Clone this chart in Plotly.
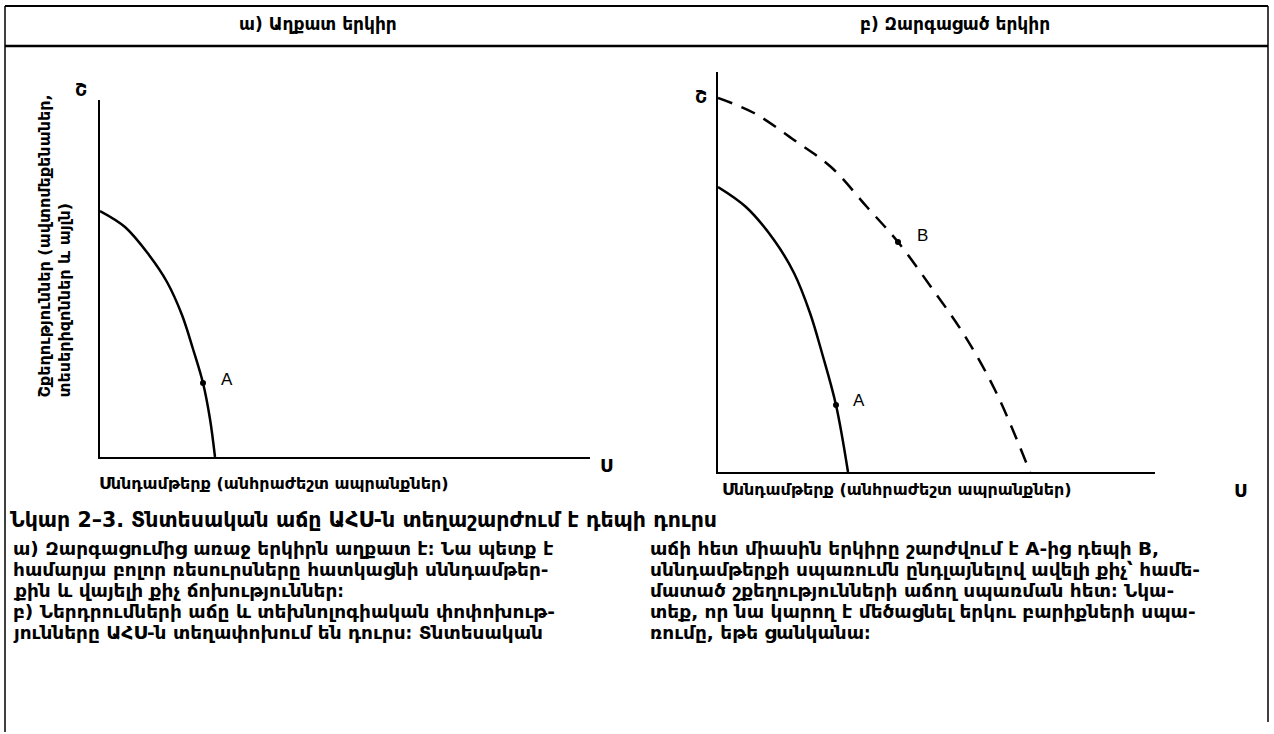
import plotly.graph_objects as go

W, H = 1274, 734

# ---------------- data (arbitrary units) ----------------
# Panel a) poor country: production-possibility frontier
left_ppf_x = [0.0, 2.5, 4.9, 6.7, 8.2, 9.3, 10.3, 11.0, 11.5]
left_ppf_y = [24.6, 23.0, 20.2, 17.5, 14.2, 10.8, 7.4, 3.8, 0.0]
left_point_A = (10.3, 7.4)

# Panel b) developed country: original PPF (solid) and shifted PPF (dashed)
right_ppf_x = [0.0, 2.8, 5.6, 7.6, 9.2, 10.4, 11.8, 13.0]
right_ppf_y = [28.5, 26.5, 23.2, 19.9, 15.9, 11.9, 6.7, 0.0]
right_point_A = (11.8, 6.7)

right_new_ppf_x = [0.0, 3.6, 7.6, 11.3, 14.9, 18.0, 21.3, 24.5, 27.7, 31.2]
right_new_ppf_y = [37.4, 35.9, 33.2, 30.5, 26.5, 23.0, 18.5, 13.9, 8.2, 0.0]
right_point_B = (18.0, 23.0)

# ---------------- texts ----------------
title_left = "ա) Աղքատ երկիր"
title_right = "բ) Զարգացած երկիր"
y_label = "Շքեղություններ (ավտոմեքենաներ,<br>տեսերիզոններ և այլն)"
x_label = "Սննդամթերք (անհրաժեշտ ապրանքներ)"
y_end = "Շ"
x_end = "Ս"
caption = "Նկար 2–3. Տնտեսական աճը ԱՀՍ-ն տեղաշարժում է դեպի դուրս"
para_left = [
    "ա) Զարգացումից առաջ երկիրն աղքատ է։ Նա պետք է",
    "համարյա բոլոր ռեսուրսները հատկացնի սննդամթեր-",
    "քին և վայելի քիչ ճոխություններ։",
    "բ) Ներդրումների աճը և տեխնոլոգիական փոփոխութ-",
    "յունները ԱՀՍ-ն տեղափոխում են դուրս։ Տնտեսական",
]
para_right = [
    "աճի հետ միասին երկիրը շարժվում է A-ից դեպի B,",
    "սննդամթերքի սպառումն ընդլայնելով ավելի քիչ՝ համե-",
    "մատած շքեղությունների աճող սպառման հետ։ Նկա-",
    "տեք, որ նա կարող է մեծացնել երկու բարիքների սպա-",
    "ռումը, եթե ցանկանա։",
]

ARM = "DejaVu Sans"
LAT = "Liberation Sans, Arial"


def px(x):
    return x / W


def py(y):
    return 1 - y / H


fig = go.Figure()

line_style = dict(color="black", width=2.5, shape="spline", smoothing=1.0)

fig.add_trace(go.Scatter(x=left_ppf_x, y=left_ppf_y, mode="lines", line=line_style,
                         xaxis="x", yaxis="y", hoverinfo="skip"))
fig.add_trace(go.Scatter(x=[left_point_A[0]], y=[left_point_A[1]], mode="markers",
                         marker=dict(color="black", size=6), xaxis="x", yaxis="y"))

fig.add_trace(go.Scatter(x=right_ppf_x, y=right_ppf_y, mode="lines", line=line_style,
                         xaxis="x2", yaxis="y2", hoverinfo="skip"))
fig.add_trace(go.Scatter(x=right_new_ppf_x, y=right_new_ppf_y, mode="lines",
                         line=dict(color="black", width=2.5, shape="spline", smoothing=1.0,
                                   dash="15px,10px"),
                         xaxis="x2", yaxis="y2", hoverinfo="skip"))
fig.add_trace(go.Scatter(x=[right_point_A[0], right_point_B[0]],
                         y=[right_point_A[1], right_point_B[1]], mode="markers",
                         marker=dict(color="black", size=6), xaxis="x2", yaxis="y2"))

axis_common = dict(showline=True, linecolor="black", linewidth=1.5, showgrid=False,
                   zeroline=False, showticklabels=False, ticks="", fixedrange=True)

fig.update_layout(
    width=W, height=H,
    margin=dict(l=0, r=0, t=0, b=0),
    paper_bgcolor="white", plot_bgcolor="rgba(0,0,0,0)",
    showlegend=False,
    xaxis=dict(domain=[px(100), px(590)], range=[0, 49], anchor="y", **axis_common),
    yaxis=dict(domain=[py(457), py(100)], range=[0, 35.7], anchor="x", **axis_common),
    xaxis2=dict(domain=[px(718), px(1155)], range=[0, 43.7], anchor="y2", **axis_common),
    yaxis2=dict(domain=[py(472), py(72)], range=[0, 40.0], anchor="x2", **axis_common),
)

# frame lines
shapes = [
    dict(type="line", xref="paper", yref="paper", x0=px(5), x1=px(1268), y0=py(6), y1=py(6),
         line=dict(color="black", width=2)),
    dict(type="line", xref="paper", yref="paper", x0=px(5), x1=px(1268), y0=py(46), y1=py(46),
         line=dict(color="black", width=2.5)),
    dict(type="line", xref="paper", yref="paper", x0=px(5), x1=px(5), y0=py(6), y1=py(732),
         line=dict(color="black", width=1.5)),
    dict(type="line", xref="paper", yref="paper", x0=px(1268), x1=px(1268), y0=py(6), y1=py(722),
         line=dict(color="black", width=1.5)),
]
fig.update_layout(shapes=shapes)

ann = []


def text(x, y, s, size, font=ARM, xanchor="center", yanchor="middle", weight="bold", **kw):
    ann.append(dict(x=px(x), y=py(y), xref="paper", yref="paper", text=s, showarrow=False,
                    xanchor=xanchor, yanchor=yanchor,
                    font=dict(family=font, size=size, color="black", weight=weight), **kw))


text(318, 24, title_left, 17)
text(955, 24, title_right, 17)

# left panel labels
text(54, 400, y_label, 16, yanchor="bottom", textangle=-90, align="left")
text(81, 90, y_end, 17)
text(606, 466, x_end, 17)
text(274, 483, x_label, 16)
text(227, 379, "A", 17, font=LAT, weight="normal")

# right panel labels
text(701, 97, y_end, 17)
text(1240, 491, x_end, 17)
text(897, 489, x_label, 16)
text(859, 400, "A", 17, font=LAT, weight="normal")
text(922, 236, "B", 17, font=LAT, weight="normal")

# caption and paragraphs
text(8, 520, caption, 20.5, xanchor="left")
line_ys = [548, 569, 590, 611, 632]
for yy, s in zip(line_ys, para_left):
    text(11, yy, s, 18.5, xanchor="left")
for yy, s in zip(line_ys, para_right):
    text(648, yy, s, 18.5, xanchor="left")

fig.update_layout(annotations=ann)

fig.write_html("out.html", config={"displayModeBar": False},
               post_script="document.body.style.margin='0';")
